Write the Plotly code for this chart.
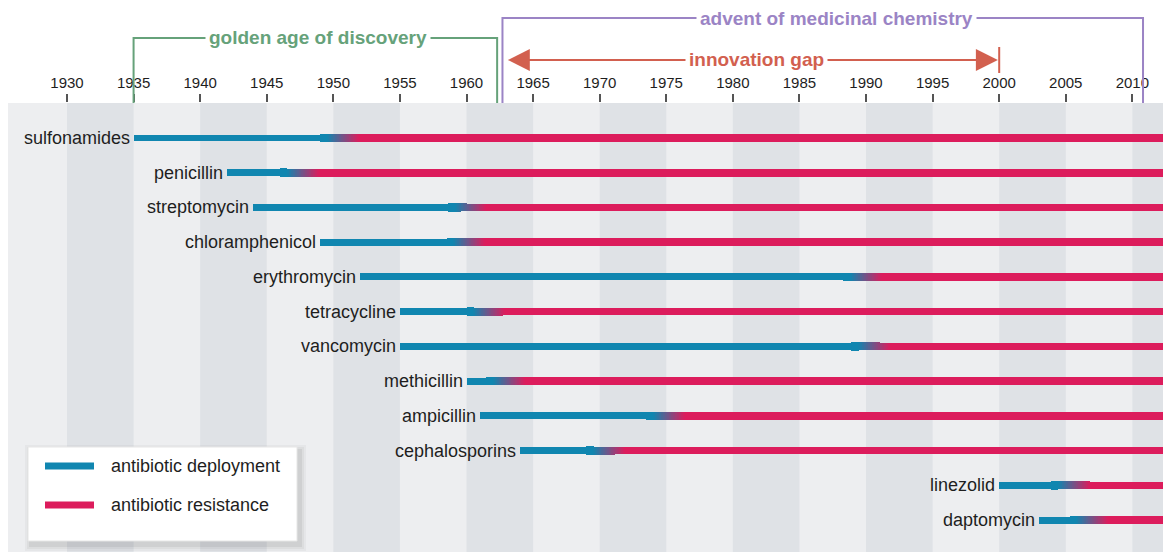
import plotly.graph_objects as go

# ---------------- data ----------------
drugs = ["sulfonamides", "penicillin", "streptomycin", "chloramphenicol",
         "erythromycin", "tetracycline", "vancomycin", "methicillin",
         "ampicillin", "cephalosporins", "linezolid", "daptomycin"]
deployed = [1935, 1942, 1944, 1949, 1952, 1955, 1955, 1960, 1961, 1964, 2000, 2003]
resistance = [1949, 1946, 1958.6, 1958.5, 1988.3, 1960, 1988.9, 1961.5, 1973.5, 1969, 2003.9, 2005.3]
tick_years = list(range(1930, 2011, 5))
legend_labels = ["antibiotic deployment", "antibiotic resistance"]

# ---------------- style ----------------
BLUE = (16, 134, 176)
RED = (220, 28, 92)
def rgb(c):
    return "rgb(%d,%d,%d)" % c
GREEN = "#66A27A"
PURPLE = "#9B84C5"
CORAL = "#D2604F"
LIGHT = "#EDEEF0"
DARK = "#DFE2E6"
TXT = "#1e1e1e"
FONT = "Liberation Sans, Arial, sans-serif"

X0, X1 = 1925.57, 2012.3
END = 2014
N = len(drugs)
PLOT_TOP, PLOT_BOTTOM = 103, 552
PLOT_LEFT, PLOT_RIGHT = 8, 1163
W, H = 1163, 552

def py(pix):
    return (PLOT_BOTTOM - pix) / (PLOT_BOTTOM - PLOT_TOP)

def px(pix):
    return (pix - PLOT_LEFT) / (PLOT_RIGHT - PLOT_LEFT)

THICK = 0.5   # years of thicker blue block
GRAD = 2.4    # years of colour transition
NSEG = 16

fig = go.Figure()

# deployment (blue)
fig.add_trace(go.Bar(
    y=drugs, x=[r - d for d, r in zip(deployed, resistance)], base=deployed,
    orientation="h", width=0.2, marker=dict(color=rgb(BLUE), line=dict(width=0)),
    hoverinfo="skip", name=legend_labels[0]))

# thicker block + gradient transition
ty, tx, tb, tc, tw = [], [], [], [], []
for name, r in zip(drugs, resistance):
    ty.append(name); tb.append(r); tx.append(THICK + 0.05); tc.append(rgb(BLUE)); tw.append(0.245)
    for k in range(NSEG):
        f = (k + 0.5) / NSEG
        col = tuple(int(round(BLUE[i] + (RED[i] - BLUE[i]) * f)) for i in range(3))
        ty.append(name)
        tb.append(r + THICK + GRAD * k / NSEG)
        tx.append(GRAD / NSEG + 0.02)
        tc.append(rgb(col))
        tw.append(0.235 - 0.015 * f)
fig.add_trace(go.Bar(y=ty, x=tx, base=tb, orientation="h", width=tw,
                     marker=dict(color=tc, line=dict(width=0)), hoverinfo="skip",
                     showlegend=False))

# resistance (red)
rs = [r + THICK + GRAD for r in resistance]
fig.add_trace(go.Bar(
    y=drugs, x=[END - s for s in rs], base=rs, orientation="h", width=0.22,
    marker=dict(color=rgb(RED), line=dict(width=0)), hoverinfo="skip",
    name=legend_labels[1]))

shapes = []
# alternating stripes
for yr in range(1930, 2015, 10):
    shapes.append(dict(type="rect", xref="x", yref="paper", x0=yr, x1=min(yr + 5, X1),
                       y0=0, y1=1, fillcolor=DARK, line=dict(width=0), layer="below"))

# golden age bracket
g_y = py(38)
shapes.append(dict(type="path", xref="x", yref="paper",
                   path="M 1935,%f L 1935,%f L 1962.3,%f L 1962.3,%f" % (1.0, g_y, g_y, 1.0),
                   line=dict(color=GREEN, width=2)))
# medicinal chemistry bracket
p_y = py(18)
shapes.append(dict(type="path", xref="x", yref="paper",
                   path="M 1962.7,%f L 1962.7,%f L 2010.8,%f L 2010.8,%f" % (1.0, p_y, p_y, 1.0),
                   line=dict(color=PURPLE, width=2)))
# innovation gap line + end bar
a_y = py(60)
shapes.append(dict(type="line", xref="x", yref="paper", x0=1964.5, x1=1998.5, y0=a_y, y1=a_y,
                   line=dict(color=CORAL, width=2)))
shapes.append(dict(type="line", xref="x", yref="paper", x0=2000, x1=2000, y0=py(47), y1=py(73),
                   line=dict(color=CORAL, width=2)))

# manual legend box with soft shadow
lx0, lx1, ly0, ly1 = 28, 297, 447, 541
for i, a in enumerate([0.03, 0.04, 0.055]):
    o = 6 - 2 * i
    shapes.append(dict(type="rect", xref="paper", yref="paper",
                       x0=px(lx0 - o + 3), x1=px(lx1 + o + 3), y0=py(ly1 + o + 4), y1=py(ly0 - o + 4),
                       fillcolor="rgba(0,0,0,%f)" % a, line=dict(width=0), layer="above"))
shapes.append(dict(type="rect", xref="paper", yref="paper", x0=px(lx0), x1=px(lx1),
                   y0=py(ly1), y1=py(ly0), fillcolor="white",
                   line=dict(color="#e6e6e6", width=1), layer="above"))
for yy, col in [(466, rgb(BLUE)), (505, rgb(RED))]:
    shapes.append(dict(type="line", xref="paper", yref="paper", x0=px(45), x1=px(94),
                       y0=py(yy), y1=py(yy), line=dict(color=col, width=7), layer="above"))

annotations = []
# row labels
for name, d in zip(drugs, deployed):
    annotations.append(dict(x=d, y=name, xref="x", yref="y", text=name, showarrow=False,
                            xanchor="right", yanchor="middle", xshift=-2,
                            font=dict(family=FONT, size=18, color=TXT)))
# legend texts
for yy, lab in [(466, legend_labels[0]), (505, legend_labels[1])]:
    annotations.append(dict(x=px(109), y=py(yy), xref="paper", yref="paper", text=lab,
                            showarrow=False, xanchor="left", yanchor="middle",
                            font=dict(family=FONT, size=18, color=TXT)))
# arrows
annotations.append(dict(x=1963.1, y=a_y, xref="x", yref="paper", ax=1970, ay=0,
                        axref="x", ayref="pixel", showarrow=True, arrowhead=2,
                        arrowsize=2.2, arrowwidth=2, arrowcolor=CORAL, text=""))
annotations.append(dict(x=1999.9, y=a_y, xref="x", yref="paper", ax=1992, ay=0,
                        axref="x", ayref="pixel", showarrow=True, arrowhead=2,
                        arrowsize=2.2, arrowwidth=2, arrowcolor=CORAL, text=""))
# titles
annotations.append(dict(x=1948.86, y=g_y, xref="x", yref="paper", text="<b>golden age of discovery</b>",
                        showarrow=False, bgcolor="white", borderpad=3, xanchor="center", yanchor="middle",
                        font=dict(family=FONT, size=19, color=GREEN)))
annotations.append(dict(x=1987.8, y=p_y, xref="x", yref="paper", text="<b>advent of medicinal chemistry</b>",
                        showarrow=False, bgcolor="white", borderpad=3, xanchor="center", yanchor="middle",
                        font=dict(family=FONT, size=19, color=PURPLE)))
annotations.append(dict(x=1981.8, y=a_y, xref="x", yref="paper", text="<b>innovation gap</b>",
                        showarrow=False, bgcolor="white", borderpad=3, xanchor="center", yanchor="middle",
                        font=dict(family=FONT, size=19, color=CORAL)))

fig.update_layout(
    width=W, height=H, autosize=False,
    margin=dict(l=PLOT_LEFT, r=W - PLOT_RIGHT, t=PLOT_TOP, b=H - PLOT_BOTTOM, pad=0),
    paper_bgcolor="white", plot_bgcolor=LIGHT,
    barmode="overlay", bargap=0, showlegend=False,
    shapes=shapes, annotations=annotations,
    font=dict(family=FONT, color=TXT),
    xaxis=dict(range=[X0, X1], side="top", tickvals=tick_years, ticks="outside",
               ticklen=8, tickwidth=1.5, tickcolor="#555", showgrid=False, zeroline=False,
               showline=False, tickfont=dict(family=FONT, size=15, color=TXT), fixedrange=True),
    yaxis=dict(type="category", categoryorder="array", categoryarray=drugs,
               range=[N - 1 + 0.92, -1.008], showticklabels=False, showgrid=False,
               zeroline=False, ticks="", fixedrange=True),
)

fig.write_html("out.html", config={"displayModeBar": False},
               post_script="document.body.style.margin='0';document.body.style.overflow='hidden';")
